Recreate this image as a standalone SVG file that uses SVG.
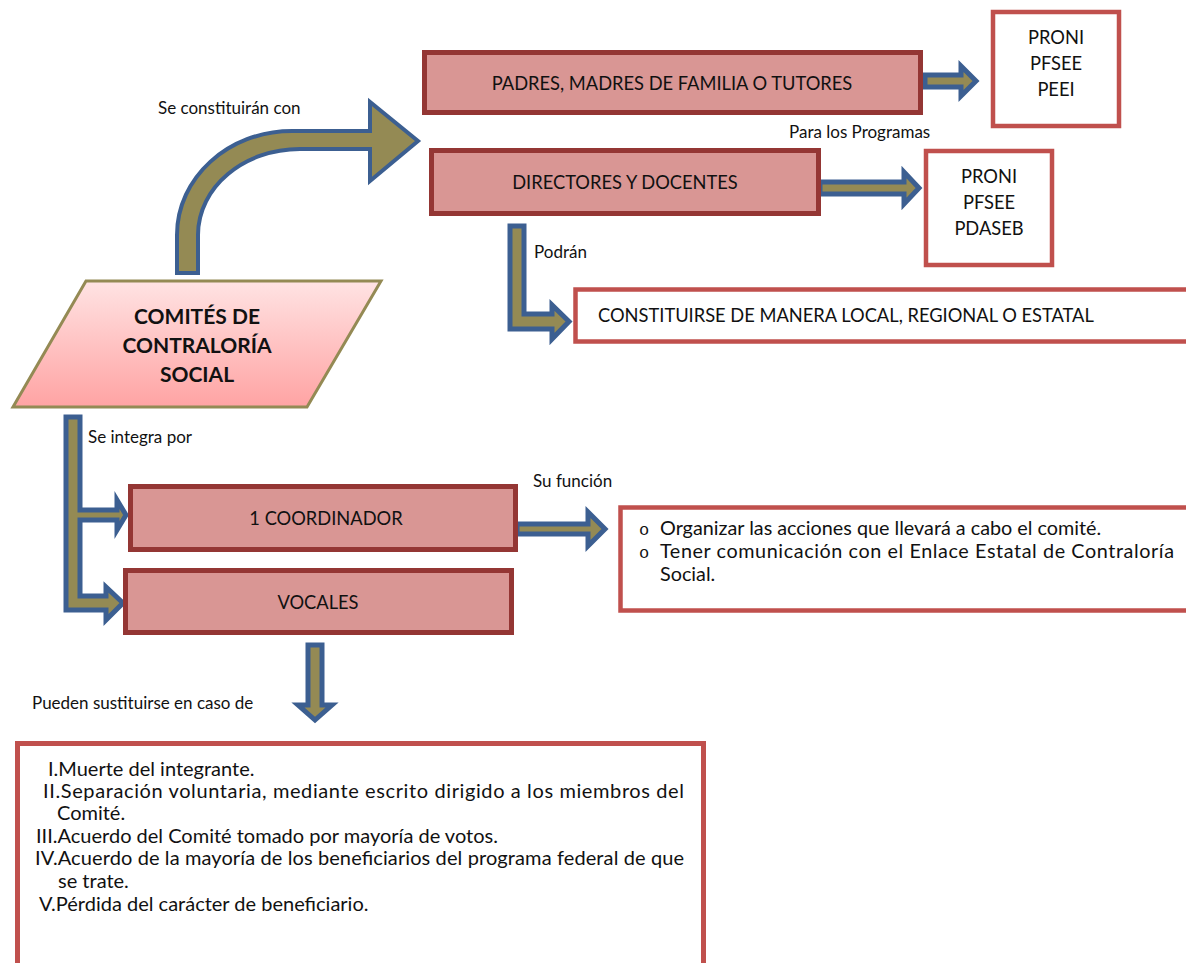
<svg xmlns="http://www.w3.org/2000/svg" width="1186" height="963" viewBox="0 0 1186 963">
<defs>
<linearGradient id="pg" x1="0" y1="0" x2="0" y2="1">
<stop offset="0" stop-color="#FFE3E3"/>
<stop offset="1" stop-color="#FFA3A3"/>
</linearGradient>
<style>
.box{fill:#D99694;stroke:#943634;stroke-width:5}
.wbox{fill:#FFFFFF;stroke:#C0504D;stroke-width:4.5}
.arrow{fill:#948A54;stroke:#3C5F91;stroke-width:5;stroke-linejoin:miter}
.t{font-family:Lato,"Liberation Sans",sans-serif;fill:#111111}
.bt{font-size:18.3px}
.ft{font-size:19.8px}
.lt{font-size:20px}
.lbl{font-size:17px}
.bul{font-family:"Liberation Mono",monospace;font-size:17px;fill:#111111}
.c{text-anchor:middle}
</style>
</defs>
<rect width="1186" height="963" fill="#FFFFFF"/>

<g id="connectors">
<path class="arrow" style="stroke-width:4" d="M177,273 L177,235 C177,178 228,131 292,131 L370,131 L370,102 L418,141 L370,181 L370,149 L300,149 C244,149 198,187 198,235 L198,273 Z"/>
<polygon class="arrow" points="925,75 961,75 961,66 976,81 961,96 961,87 925,87"/>
<polygon class="arrow" points="820,182 904,182 904,172 919,188 904,204 904,194 820,194"/>
<polygon class="arrow" points="510,226 524,226 524,314 552,314 552,305 569,321.5 552,339 552,329 510,329"/>
<polygon class="arrow" points="66,417 80,417 80,510 117,510 117,500 126,515 117,530 117,520 80,520 80,596 106,596 106,587 123,603 106,620 106,610 66,610"/>
<polygon class="arrow" points="517,524 588,524 588,512 605,529 588,546 588,534 517,534"/>
<polygon class="arrow" points="308,645 322,645 322,705 332,705 315,720 298,705 308,705"/>
<text class="t lbl" x="158" y="114">Se constituirán con</text>
<text class="t lbl" x="789" y="138">Para los Programas</text>
<text class="t lbl" x="534" y="258">Podrán</text>
<text class="t lbl" x="88" y="443">Se integra por</text>
<text class="t lbl" x="533" y="487">Su función</text>
<text class="t lbl" x="32" y="709">Pueden sustituirse en caso de</text>
</g>

<g id="comites">
<polygon points="86,281 381,281 307,407 13,407" fill="url(#pg)" stroke="#948A54" stroke-width="3"/>
<text class="t c" x="197" y="324" style="font-size:21px;font-weight:bold">COMITÉS DE</text>
<text class="t c" x="197" y="353" style="font-size:21px;font-weight:bold">CONTRALORÍA</text>
<text class="t c" x="197" y="382" style="font-size:21px;font-weight:bold">SOCIAL</text>
</g>

<g id="padres">
<rect class="box" x="424.5" y="52.5" width="496" height="60"/>
<text class="t bt c" x="672" y="90">PADRES, MADRES DE FAMILIA O TUTORES</text>
</g>

<g id="programas1">
<rect class="wbox" x="993" y="12" width="126" height="114"/>
<text class="t bt c" x="1056" y="44">PRONI</text>
<text class="t bt c" x="1056" y="70">PFSEE</text>
<text class="t bt c" x="1056" y="96">PEEI</text>
</g>

<g id="directores">
<rect class="box" x="431.5" y="150.5" width="387" height="63"/>
<text class="t bt c" x="625" y="189">DIRECTORES Y DOCENTES</text>
</g>

<g id="programas2">
<rect class="wbox" x="926" y="151" width="126" height="114"/>
<text class="t bt c" x="989" y="183">PRONI</text>
<text class="t bt c" x="989" y="209">PFSEE</text>
<text class="t bt c" x="989" y="235">PDASEB</text>
</g>

<g id="constituirse">
<rect class="wbox" x="575.5" y="289.5" width="630" height="52"/>
<text class="t bt" x="598" y="322">CONSTITUIRSE DE MANERA LOCAL, REGIONAL O ESTATAL</text>
</g>

<g id="coordinador">
<rect class="box" x="130.5" y="486.5" width="385" height="63"/>
<text class="t bt c" x="326" y="525">1 COORDINADOR</text>
</g>

<g id="vocales">
<rect class="box" x="125.5" y="570.5" width="386" height="62"/>
<text class="t bt c" x="318" y="609">VOCALES</text>
</g>

<g id="funcion">
<rect class="wbox" x="620.5" y="507.5" width="600" height="103"/>
<text class="bul" x="639" y="535">o</text>
<text class="t ft" x="660" y="535">Organizar las acciones que llevará a cabo el comité.</text>
<text class="bul" x="639" y="558">o</text>
<text class="t ft" x="660" y="558" textLength="514" lengthAdjust="spacing">Tener comunicación con el Enlace Estatal de Contraloría</text>
<text class="t ft" x="660" y="581">Social.</text>
</g>

<g id="sustitucion">
<rect class="wbox" style="stroke-width:5" x="17.5" y="743.5" width="686" height="240"/>
<text class="t lt" x="48" y="776">I.Muerte del integrante.</text>
<text class="t lt" x="43" y="798" textLength="641" lengthAdjust="spacing">II.Separación voluntaria, mediante escrito dirigido a los miembros del</text>
<text class="t lt" x="57" y="820">Comité.</text>
<text class="t lt" x="36" y="843">III.Acuerdo del Comité tomado por mayoría de votos.</text>
<text class="t lt" x="35" y="865" textLength="649" lengthAdjust="spacing">IV.Acuerdo de la mayoría de los beneficiarios del programa federal de que</text>
<text class="t lt" x="58" y="888">se trate.</text>
<text class="t lt" x="39" y="911">V.Pérdida del carácter de beneficiario.</text>
</g>
</svg>
